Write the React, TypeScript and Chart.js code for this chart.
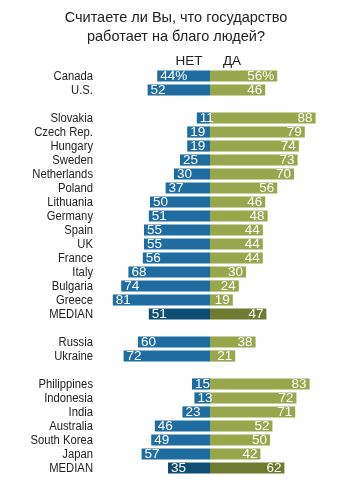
import React, { useEffect, useRef } from "react";
import { Chart, registerables } from "chart.js";

Chart.register(...registerables);

const TITLE_LINES = ["Считаете ли Вы, что государство", "работает на благо людей?"];
const NO_LABEL = "НЕТ";
const YES_LABEL = "ДА";

const categories = [
  "Canada", "U.S.", "",
  "Slovakia", "Czech Rep.", "Hungary", "Sweden", "Netherlands", "Poland", "Lithuania", "Germany",
  "Spain", "UK", "France", "Italy", "Bulgaria", "Greece", "MEDIAN", "",
  "Russia", "Ukraine", "",
  "Philippines", "Indonesia", "India", "Australia", "South Korea", "Japan", "MEDIAN",
];

const noValues: (number | null)[] = [
  44, 52, null,
  11, 19, 19, 25, 30, 37, 50, 51, 55, 55, 56, 68, 74, 81, 51, null,
  60, 72, null,
  15, 13, 23, 46, 49, 57, 35,
];

const yesValues: (number | null)[] = [
  56, 46, null,
  88, 79, 74, 73, 70, 56, 46, 48, 44, 44, 44, 30, 24, 19, 47, null,
  38, 21, null,
  83, 72, 71, 52, 50, 42, 62,
];

const BLUE = "#1f6da0";
const BLUE_DARK = "#0f4e74";
const GREEN = "#98a64c";
const GREEN_DARK = "#6e7b30";
const FONT = "'Liberation Sans', Arial, sans-serif";

export default function App() {
  const ref = useRef<HTMLCanvasElement | null>(null);

  useEffect(() => {
    document.body.style.margin = "0";
    const canvas = ref.current;
    if (!canvas) return;

    const isMedian = (i: number) => categories[i] === "MEDIAN";

    const overlay = {
      id: "overlay",
      afterDatasetsDraw(chart: any) {
        const ctx = chart.ctx;
        const xs = chart.scales.x;
        const ys = chart.scales.y;
        ctx.save();
        // Title
        ctx.fillStyle = "#222";
        ctx.font = `14.5px ${FONT}`;
        ctx.textAlign = "center";
        ctx.textBaseline = "middle";
        ctx.fillText(TITLE_LINES[0], 176, 18);
        ctx.fillText(TITLE_LINES[1], 176, 37);
        // Headers
        ctx.font = `13.5px ${FONT}`;
        ctx.fillText(NO_LABEL, 189, 61);
        ctx.fillText(YES_LABEL, 232, 61);
        // Category labels (condensed look)
        ctx.font = `12.5px ${FONT}`;
        ctx.textAlign = "right";
        const sx = 0.9;
        categories.forEach((c, i) => {
          if (!c) return;
          ctx.save();
          ctx.translate(93, ys.getPixelForValue(i) + 0.5);
          ctx.scale(sx, 1);
          ctx.fillText(c, 0, 0);
          ctx.restore();
        });
        // Value labels
        ctx.font = `13.5px ${FONT}`;
        ctx.fillStyle = "#ffffff";
        noValues.forEach((v, i) => {
          if (v == null) return;
          const y = ys.getPixelForValue(i);
          const left = xs.getPixelForValue(-v);
          ctx.textAlign = "left";
          ctx.fillText(i === 0 ? v + "%" : String(v), left + 3, y + 0.5);
        });
        yesValues.forEach((v, i) => {
          if (v == null) return;
          const y = ys.getPixelForValue(i);
          const right = xs.getPixelForValue(v);
          ctx.textAlign = "right";
          ctx.fillText(i === 0 ? v + "%" : String(v), right - 3, y + 0.5);
        });
        ctx.restore();
      },
    };

    const chart = new Chart(canvas, {
      type: "bar",
      data: {
        labels: categories,
        datasets: [
          {
            label: NO_LABEL,
            data: noValues.map((v) => (v == null ? null : -v)),
            backgroundColor: noValues.map((_, i) => (isMedian(i) ? BLUE_DARK : BLUE)),
            barPercentage: 0.8,
            categoryPercentage: 1,
            borderWidth: 0,
          },
          {
            label: YES_LABEL,
            data: yesValues,
            backgroundColor: yesValues.map((_, i) => (isMedian(i) ? GREEN_DARK : GREEN)),
            barPercentage: 0.8,
            categoryPercentage: 1,
            borderWidth: 0,
          },
        ],
      },
      options: {
        indexAxis: "y",
        animation: false,
        responsive: false,
        maintainAspectRatio: false,
        layout: { padding: { top: 69, bottom: 7, left: 100, right: 8 } },
        plugins: {
          legend: { display: false },
          title: { display: false },
          tooltip: { enabled: false },
        },
        scales: {
          x: {
            stacked: true,
            min: -91.67,
            max: 107.5,
            display: false,
          },
          y: {
            stacked: true,
            display: false,
          },
        },
      },
      plugins: [overlay],
    });

    return () => chart.destroy();
  }, []);

  return (
    <div style={{ width: 347, height: 482, position: "relative" }}>
      <canvas ref={ref} width={347} height={482} style={{ width: 347, height: 482, display: "block" }} />
    </div>
  );
}
